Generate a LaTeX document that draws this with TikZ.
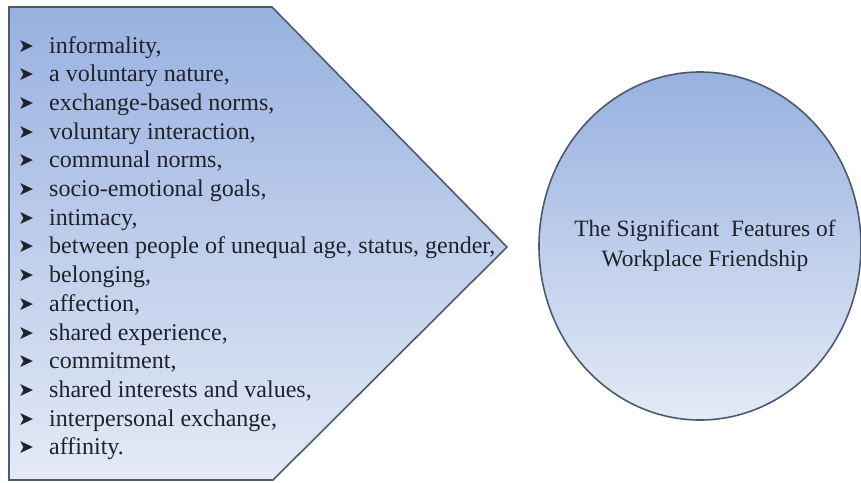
\documentclass[tikz,border=0pt]{standalone}
\usepackage{fontspec}
\usetikzlibrary{shapes.geometric}
\setmainfont{Liberation Serif}
\newfontfamily\symfont{DejaVu Sans}
\definecolor{topblue}{HTML}{98B1E0}
\definecolor{botblue}{HTML}{E4EAF6}
\definecolor{edgecol}{HTML}{4C5B6C}
\definecolor{txtcol}{HTML}{1E222A}
\tikzset{
  shapebox/.style={draw=edgecol, line width=1.6pt, top color=topblue, bottom color=botblue},
  itemtxt/.style={anchor=base west, inner sep=0pt, font=\fontsize{24}{28}\selectfont, text=txtcol},
  bul/.style={anchor=base west, inner sep=0pt, font=\symfont\fontsize{19}{20}\selectfont, text=txtcol},
  circtxt/.style={align=center, inner sep=0pt, font=\fontsize{23.4}{30}\selectfont, text=txtcol}
}
\begin{document}
\begin{tikzpicture}[x=1pt,y=-1pt]
\useasboundingbox (0,0) rectangle (861,482);
\fill[white] (0,0) rectangle (861,482);
% pentagon (arrow-shaped box)
\coordinate (tl) at (9,7);
\coordinate (tr) at (272,7);
\coordinate (tip) at (507,247);
\coordinate (br) at (273,480);
\coordinate (bl) at (9,480);
\path[shapebox] (tl) -- (tr) -- (tip) -- (br) -- (bl) -- cycle;
% circle
\node[shapebox, ellipse, minimum width=322pt, minimum height=348pt, inner sep=0pt] (circ) at (700,246) {};
\node[circtxt] (title) at (705,246) {The Significant\ \ Features of\\Workplace Friendship};
% list
\foreach \t [count=\i from 0] in {
  {informality,},
  {a voluntary nature,},
  {exchange-based norms,},
  {voluntary interaction,},
  {communal norms,},
  {socio-emotional goals,},
  {intimacy,},
  {between people of unequal age, status, gender,},
  {belonging,},
  {affection,},
  {shared experience,},
  {commitment,},
  {shared interests and values,},
  {interpersonal exchange,},
  {affinity.}} {
  \node[bul] (b\i) at (18,{52+28.7*\i}) {➤};
  \node[itemtxt] (t\i) at (49,{53+28.7*\i}) {\t};
}
\end{tikzpicture}
\end{document}
